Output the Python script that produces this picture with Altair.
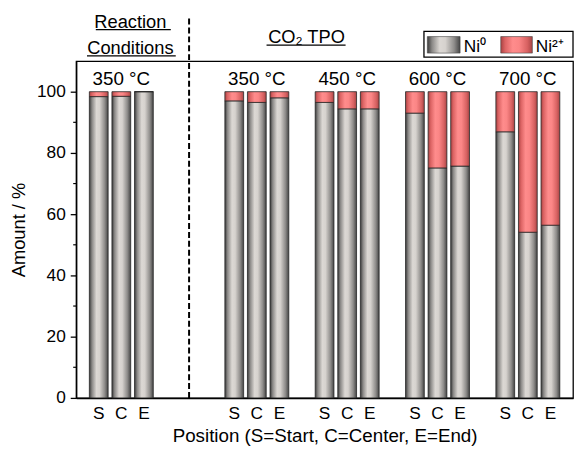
import altair as alt
import pandas as pd

# ---------------- data ----------------
positions = [0, 1, 2, 6, 7, 8, 10, 11, 12, 14, 15, 16, 18, 19, 20]
position_labels = ["S", "C", "E"] * 5
ni0 = [98.4, 98.5, 100.0, 97.0, 96.5, 98.0, 96.5, 94.4, 94.4, 93.0, 75.1, 75.7, 86.9, 54.1, 56.4]
ni2 = [round(100 - v, 1) for v in ni0]
temperatures = ["350 °C", "350 °C", "450 °C", "600 °C", "700 °C"]
temperature_pos = [1, 7, 11, 15, 19]
y_ticks = [0, 20, 40, 60, 80, 100]
minor_ticks = [10, 30, 50, 70, 90]
header_texts = ["Reaction", "Conditions", "CO₂ TPO"]
legend_names = ["Ni⁰", "Ni²⁺"]

FONT = "Liberation Sans"

df = pd.DataFrame({"pos": positions, "label": position_labels,
                   "ni0": ni0, "ni2": ni2, "total": [100] * len(positions),
                   "zero": [0] * len(positions)})


def grad(stops):
    return alt.LinearGradient(
        gradient="linear", x1=0, x2=1, y1=0, y2=0,
        stops=[alt.GradientStop(offset=o, color=c) for o, c in stops])


gray_grad = grad([(0, "#3a3a3a"), (0.14, "#8a8886"), (0.38, "#dcd8d4"),
                  (0.55, "#d6d2ce"), (0.82, "#8e8c8a"), (1, "#454545")])
pink_grad = grad([(0, "#a84242"), (0.14, "#dc6464"), (0.38, "#ff8c8c"),
                  (0.58, "#fb8686"), (0.84, "#d86262"), (1, "#a84545")])

xscale = alt.Scale(domain=[-1, 21], nice=False, zero=False, padding=0)
yscale = alt.Scale(domain=[0, 110], nice=False, padding=0)

base = alt.Chart(df)

gray_bars = base.mark_bar(size=19, fill=gray_grad, stroke="#262626", strokeWidth=0.8).encode(
    x=alt.X("pos:Q", scale=xscale,
            axis=alt.Axis(values=positions, labels=False, ticks=False, grid=False,
                          title="Position (S=Start, C=Center, E=End)",
                          titleFontSize=19, titlePadding=29,
                          titleColor="black", titleFontWeight="normal",
                          domainColor="black", domainWidth=1.5, titleFont=FONT)),
    y=alt.Y("ni0:Q", scale=yscale,
            axis=alt.Axis(values=y_ticks, tickSize=6, tickColor="black", tickWidth=1.3, grid=False,
                          labelOverlap=False, labelFlush=False,
                          title="Amount / %", labelFontSize=17.5, titleFontSize=18.5,
                          labelPadding=5, titlePadding=8, labelColor="black", titleColor="black",
                          titleFontWeight="normal", domainColor="black", domainWidth=1.5,
                          labelFont=FONT, titleFont=FONT)),
)

pink_bars = base.mark_bar(size=19, fill=pink_grad, stroke="#262626", strokeWidth=0.8).encode(
    x=alt.X("pos:Q", scale=xscale),
    y=alt.Y("ni0:Q", scale=yscale),
    y2="total:Q",
)

x_labels = base.mark_text(fontSize=17.5, font=FONT, color="black", align="center",
                          baseline="top", dy=7).encode(
    x=alt.X("pos:Q", scale=xscale), y=alt.Y("zero:Q", scale=yscale), text="label:N")

minor_df = pd.DataFrame({"v": minor_ticks})
minor = alt.Chart(minor_df).mark_rule(color="black", strokeWidth=1.2).encode(
    x=alt.value(-3), x2=alt.value(0), y=alt.Y("v:Q", scale=yscale))

dash_df = pd.DataFrame({"x": [4], "y": [0], "y2": [124.8]})
dashed = alt.Chart(dash_df).mark_rule(color="black", strokeWidth=2, strokeDash=[6, 3]).encode(
    x=alt.X("x:Q", scale=xscale), y=alt.Y("y:Q", scale=yscale), y2="y2:Q")

temp_df = pd.DataFrame({"x": temperature_pos, "y": [102.3] * 5, "t": temperatures})
temp_text = alt.Chart(temp_df).mark_text(fontSize=19, font=FONT, color="black", align="center",
                                         baseline="alphabetic").encode(
    x=alt.X("x:Q", scale=xscale), y=alt.Y("y:Q", scale=yscale), text="t:N")

head_df = pd.DataFrame({"x": [1.4, 1.4, 9.2], "y": [120.9, 112.4, 115.9], "t": header_texts})
head_text = alt.Chart(head_df).mark_text(fontSize=18.5, font=FONT, color="black", align="center",
                                         baseline="alphabetic").encode(
    x=alt.X("x:Q", scale=xscale), y=alt.Y("y:Q", scale=yscale), text="t:N")

ul_df = pd.DataFrame({"x": [-0.13, -0.52, 7.43], "x2": [3.19, 3.41, 10.93],
                      "y": [120.3, 111.7, 115.2]})
underlines = alt.Chart(ul_df).mark_rule(color="black", strokeWidth=1.2).encode(
    x=alt.X("x:Q", scale=xscale), x2="x2:Q", y=alt.Y("y:Q", scale=yscale))

box_df = pd.DataFrame({"x": [14.4], "x2": [21], "y": [111.3], "y2": [119.7]})
legend_box = alt.Chart(box_df).mark_rect(fill="white", stroke="black", strokeWidth=1.3).encode(
    x=alt.X("x:Q", scale=xscale), x2="x2:Q", y=alt.Y("y:Q", scale=yscale), y2="y2:Q")

sw_gray_df = pd.DataFrame({"x": [14.55], "x2": [16.0], "y": [112.6], "y2": [118.0]})
sw_gray = alt.Chart(sw_gray_df).mark_rect(fill=gray_grad, stroke="#444", strokeWidth=0.6).encode(
    x=alt.X("x:Q", scale=xscale), x2="x2:Q", y=alt.Y("y:Q", scale=yscale), y2="y2:Q")
sw_pink_df = pd.DataFrame({"x": [17.8], "x2": [19.2], "y": [112.6], "y2": [118.0]})
sw_pink = alt.Chart(sw_pink_df).mark_rect(fill=pink_grad, stroke="#444", strokeWidth=0.6).encode(
    x=alt.X("x:Q", scale=xscale), x2="x2:Q", y=alt.Y("y:Q", scale=yscale), y2="y2:Q")

leg_text_df = pd.DataFrame({"x": [16.16, 19.35], "y": [112.9, 112.9], "t": legend_names})
leg_text = alt.Chart(leg_text_df).mark_text(fontSize=17.5, font=FONT, color="black", align="left",
                                            baseline="alphabetic").encode(
    x=alt.X("x:Q", scale=xscale), y=alt.Y("y:Q", scale=yscale), text="t:N")

chart = alt.layer(
    gray_bars, pink_bars, x_labels, minor, dashed, temp_text, head_text, underlines,
    legend_box, sw_gray, sw_pink, leg_text,
).properties(
    width=503, height=341,
    padding={"left": 69, "top": 51, "right": 1, "bottom": 50},
    autosize=alt.AutoSizeParams(type="none"),
).configure(font=FONT).configure_view(stroke="black", strokeWidth=1.3).configure_scale(
    continuousPadding=0)

chart.save("out.html", embed_options={"renderer": "svg", "actions": False})
